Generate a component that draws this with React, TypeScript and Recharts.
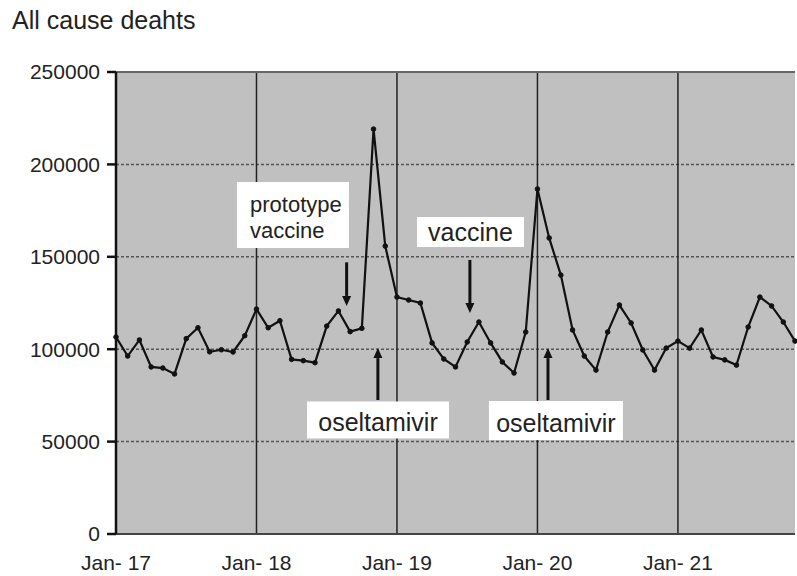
import { LineChart, Line, XAxis, YAxis, CartesianGrid, ReferenceLine, ReferenceDot } from 'recharts'

const FONT = '"Liberation Sans", Arial, Helvetica, sans-serif'

// monthly all-cause deaths, Jan-17 .. Nov-21
const deaths = [
	106600, 96300, 105000, 90400, 89800, 86600, 105700, 111600, 98600, 99700, 98500, 107300,
	121700, 111600, 115400, 94500, 93800, 92700, 112500, 120700, 109500, 111300, 219100, 155800,
	128200, 126600, 125000, 103400, 94700, 90400, 103900, 114700, 103400, 93100, 87100, 109300,
	186700, 160200, 140100, 110400, 96300, 88700, 109300, 123900, 114200, 99600, 88700, 100600,
	104400, 100600, 110400, 95800, 94200, 91400, 112000, 128200, 123400, 114700, 104400,
]

const yearTicks = [0, 12, 24, 36, 48]
const yearLabels = ['Jan- 17', 'Jan- 18', 'Jan- 19', 'Jan- 20', 'Jan- 21']
const yTicks = [0, 50000, 100000, 150000, 200000, 250000]

const protoLabel = ['prototype', 'vaccine']
const vaccineLabel = 'vaccine'
const oselLabel = 'oseltamivir'

const data = deaths.map((v, i) => ({ i, v }))

function Arrow(props: any) {
	const { x1, y1, x2, y2 } = props
	const dx = x2 - x1
	const dy = y2 - y1
	const len = Math.sqrt(dx * dx + dy * dy) || 1
	const ux = dx / len
	const uy = dy / len
	const head = 10
	const half = 4.5
	const bx = x2 - ux * head
	const by = y2 - uy * head
	return (
		<g>
			<line x1={x1} y1={y1} x2={bx} y2={by} stroke="#111" strokeWidth={3} />
			<polygon
				points={`${x2},${y2} ${bx - uy * half},${by + ux * half} ${bx + uy * half},${by - ux * half}`}
				fill="#111"
			/>
		</g>
	)
}

function boxShape(lines: string[], w: number, h: number, size: number, baselines: number[], left?: number) {
	return (p: any) => {
		const { cx, cy } = p
		return (
			<g>
				<rect x={cx - w / 2} y={cy - h / 2} width={w} height={h} fill="#fff" />
				{lines.map((t, k) => (
					<text
						key={k}
						x={left !== undefined ? cx + left : cx}
						y={cy + baselines[k]}
						textAnchor={left !== undefined ? 'start' : 'middle'}
						fontSize={size}
						fontFamily={FONT}
						fill="#222"
					>
						{t}
					</text>
				))}
			</g>
		)
	}
}

export default function App() {
	return (
		<div style={{ position: 'absolute', left: 0, top: 0, width: 797, height: 576, background: '#fff' }}>
			<div
				style={{
					position: 'absolute',
					left: 12,
					top: 8,
					fontFamily: FONT,
					fontSize: 25,
					lineHeight: '25px',
					color: '#222',
				}}
			>
				All cause deahts
			</div>
			<LineChart width={797} height={576} data={data} margin={{ top: 72, right: 2, bottom: 0, left: 0 }}>
				<CartesianGrid vertical={false} fill="#c0c0c0" stroke="#555" strokeDasharray="3 2" strokeWidth={1.5} />
				{yearTicks.slice(1).map((t) => (
					<ReferenceLine key={t} x={t} stroke="#222" strokeWidth={1.5} />
				))}
				<ReferenceLine y={250000} stroke="#666" strokeWidth={2} />
				<XAxis
					type="number"
					dataKey="i"
					domain={[0, 58]}
					ticks={yearTicks}
					interval={0}
					tickFormatter={(v: number) => yearLabels[yearTicks.indexOf(v)]}
					tickLine={false}
					tickSize={0}
					tickMargin={21}
					height={42}
					axisLine={{ stroke: '#444', strokeWidth: 2 }}
					tick={{ fill: '#222', fontSize: 21, fontFamily: FONT }}
				/>
				<YAxis
					domain={[0, 250000]}
					ticks={yTicks}
					interval={0}
					width={116}
					tickSize={9}
					tickMargin={7}
					axisLine={{ stroke: '#111', strokeWidth: 2.5 }}
					tickLine={{ stroke: '#111', strokeWidth: 2.5 }}
					tick={{ fill: '#222', fontSize: 21, fontFamily: FONT }}
				/>
				<ReferenceDot x={15.12} y={172600} r={0} shape={boxShape(protoLabel, 112, 66, 22, [-3, 23], -43)} />
				<ReferenceDot x={30.28} y={163400} r={0} shape={boxShape([vaccineLabel], 107, 30, 25, [9])} />
				<ReferenceDot x={22.38} y={61700} r={0} shape={boxShape([oselLabel], 142, 37, 25, [11])} />
				<ReferenceDot x={37.58} y={61400} r={0} shape={boxShape([oselLabel], 134, 39, 25, [11])} />
				<ReferenceLine segment={[{ x: 19.7, y: 147000 }, { x: 19.7, y: 123400 }]} shape={Arrow} />
				<ReferenceLine segment={[{ x: 30.23, y: 148300 }, { x: 30.23, y: 119600 }]} shape={Arrow} />
				<ReferenceLine segment={[{ x: 22.37, y: 72500 }, { x: 22.37, y: 100600 }]} shape={Arrow} />
				<ReferenceLine segment={[{ x: 36.9, y: 72500 }, { x: 36.9, y: 100600 }]} shape={Arrow} />
				<Line
					dataKey="v"
					stroke="#111"
					strokeWidth={2.2}
					dot={{ r: 2.3, fill: '#111', stroke: '#111', strokeWidth: 1 }}
					isAnimationActive={false}
				/>
			</LineChart>
		</div>
	)
}
